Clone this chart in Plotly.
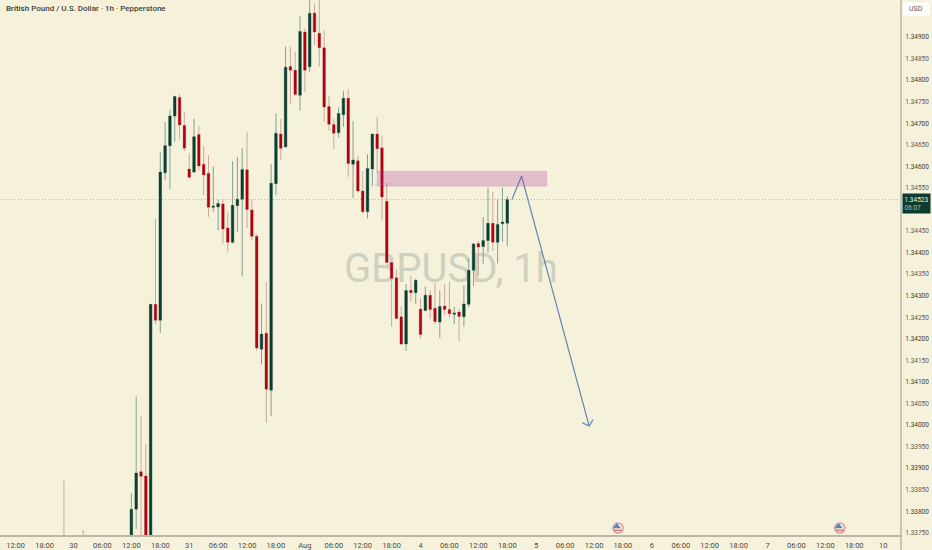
import plotly.graph_objects as go

# hourly bars, 0 = the 12:00 bar of Jul 29 (weekend bars are left out like on the chart)
bar_idx = [10, 14] + list(range(24, 103))
opens = [1.33720, 1.33730, 1.33700, 1.33805, 1.33892, 1.33882, 1.33700, 1.34280, 1.34243, 1.34585,
         1.34648, 1.34717, 1.34760, 1.34695, 1.34594, 1.34587, 1.34674, 1.34605, 1.34584, 1.34505,
         1.34506, 1.34513, 1.34457, 1.34424, 1.34509, 1.34524, 1.34592, 1.34499, 1.34438, 1.34176,
         1.34213, 1.34081, 1.34560, 1.34675, 1.34645, 1.34832, 1.34823, 1.34765, 1.34912, 1.34831,
         1.34956, 1.34909, 1.34875, 1.34739, 1.34697, 1.34678, 1.34720, 1.34758, 1.34605, 1.34613,
         1.34543, 1.34495, 1.34594, 1.34675, 1.34643, 1.34519, 1.34377, 1.34342, 1.34251, 1.34188,
         1.34313, 1.34307, 1.34269, 1.34266, 1.34301, 1.34271, 1.34239, 1.34276, 1.34268, 1.34257,
         1.34262, 1.34251, 1.34280, 1.34359, 1.34421, 1.34414, 1.34428, 1.34468, 1.34424, 1.34467,
         1.34468]
highs = [1.33872, 1.33756, 1.33842, 1.34066, 1.34021, 1.33956, 1.34280, 1.34478, 1.34633, 1.34703,
         1.34731, 1.34764, 1.34768, 1.34725, 1.34630, 1.34711, 1.34694, 1.34648, 1.34626, 1.34599,
         1.34522, 1.34524, 1.34493, 1.34612, 1.34622, 1.34642, 1.34679, 1.34523, 1.34443, 1.34282,
         1.34332, 1.34605, 1.34723, 1.34710, 1.34878, 1.34878, 1.34866, 1.34949, 1.34920, 1.35000,
         1.34978, 1.35000, 1.34916, 1.34763, 1.34711, 1.34737, 1.34775, 1.34779, 1.34705, 1.34624,
         1.34589, 1.34628, 1.34675, 1.34715, 1.34671, 1.34561, 1.34377, 1.34362, 1.34276, 1.34327,
         1.34346, 1.34339, 1.34294, 1.34322, 1.34313, 1.34330, 1.34313, 1.34327, 1.34332, 1.34274,
         1.34269, 1.34324, 1.34387, 1.34423, 1.34427, 1.34483, 1.34550, 1.34541, 1.34523, 1.34551,
         1.34531]
lows = [1.33680, 1.33690, 1.33680, 1.33759, 1.33710, 1.33700, 1.33680, 1.34234, 1.34214, 1.34568,
        1.34547, 1.34657, 1.34663, 1.34636, 1.34571, 1.34584, 1.34591, 1.34533, 1.34483, 1.34495,
        1.34452, 1.34421, 1.34400, 1.34421, 1.34448, 1.34345, 1.34457, 1.34429, 1.34172, 1.34141,
        1.34005, 1.34021, 1.34533, 1.34615, 1.34645, 1.34745, 1.34765, 1.34729, 1.34772, 1.34819,
        1.34881, 1.34831, 1.34703, 1.34683, 1.34640, 1.34667, 1.34692, 1.34576, 1.34526, 1.34539,
        1.34492, 1.34479, 1.34554, 1.34585, 1.34475, 1.34377, 1.34228, 1.34246, 1.34185, 1.34172,
        1.34286, 1.34281, 1.34200, 1.34264, 1.34247, 1.34234, 1.34202, 1.34255, 1.34249, 1.34234,
        1.34194, 1.34228, 1.34273, 1.34323, 1.34348, 1.34373, 1.34400, 1.34404, 1.34375, 1.34425,
        1.34415]
closes = [1.33690, 1.33700, 1.33805, 1.33889, 1.33881, 1.33720, 1.34280, 1.34243, 1.34587, 1.34648,
          1.34717, 1.34762, 1.34696, 1.34642, 1.34575, 1.34669, 1.34601, 1.34580, 1.34505, 1.34508,
          1.34514, 1.34455, 1.34424, 1.34510, 1.34524, 1.34593, 1.34500, 1.34438, 1.34179, 1.34211,
          1.34083, 1.34561, 1.34677, 1.34642, 1.34830, 1.34823, 1.34767, 1.34913, 1.34823, 1.34955,
          1.34912, 1.34875, 1.34738, 1.34698, 1.34677, 1.34723, 1.34758, 1.34607, 1.34615, 1.34543,
          1.34495, 1.34595, 1.34675, 1.34641, 1.34529, 1.34377, 1.34340, 1.34247, 1.34188, 1.34312,
          1.34307, 1.34336, 1.34210, 1.34301, 1.34268, 1.34240, 1.34275, 1.34268, 1.34258, 1.34260,
          1.34252, 1.34281, 1.34359, 1.34420, 1.34413, 1.34428, 1.34468, 1.34424, 1.34465, 1.34471,
          1.34523]

x_tick_idx = [i * 6 for i in range(31)]
x_tick_text = ["12:00", "18:00", "30", "06:00", "12:00", "18:00", "31", "06:00", "12:00", "18:00",
               "Aug", "06:00", "12:00", "18:00", "4", "06:00", "12:00", "18:00", "5", "06:00",
               "12:00", "18:00", "6", "06:00", "12:00", "18:00", "7", "06:00", "12:00", "18:00", "10"]
# 1.34500 sits behind the last price tag, so it is not in the list
y_tick_vals = [1.33750, 1.33800, 1.33850, 1.33900, 1.33950, 1.34000, 1.34050, 1.34100, 1.34150,
               1.34200, 1.34250, 1.34300, 1.34350, 1.34400, 1.34450, 1.34550, 1.34600, 1.34650,
               1.34700, 1.34750, 1.34800, 1.34850, 1.34900]

last_price = 1.34523
zone_idx = [75, 110.2]
zone_price = [1.34554, 1.34589]
dash_idx = [74.5, 83.9]
dash_price = 1.34559
arrow_idx = [102.96, 104.97, 119]
arrow_price = [1.345235, 1.345776, 1.339977]
head_idx = [117.6, 119, 119.8]
head_price = [1.34005, 1.339977, 1.34013]
flag_idx = [125, 171]
flag_price = [1.33761, 1.33761]

BG = "#f5f1da"
AXIS = "#b9b7a5"
GREEN = "#0c3b30"
RED = "#b3000f"
FONT = "Roboto"
W, H = 932, 550
ML, MR, MT, MB = 0, 31, 0, 15
PW, PH = W - ML - MR, H - MT - MB


def px(v):
    return v / PW


def py(v):
    return (PH - v) / PH


fig = go.Figure()

# wicks first, then the bodies on top so they can have a stronger colour
fig.add_trace(go.Candlestick(
    x=bar_idx, open=opens, high=highs, low=lows, close=closes, whiskerwidth=0,
    increasing=dict(line=dict(color="#83a193", width=1), fillcolor="rgba(0,0,0,0)"),
    decreasing=dict(line=dict(color="#cba99e", width=1), fillcolor="rgba(0,0,0,0)"),
    showlegend=False, hoverinfo="skip"))
body_hi = [max(o, c) for o, c in zip(opens, closes)]
body_lo = [min(o, c) for o, c in zip(opens, closes)]
fig.add_trace(go.Candlestick(
    x=bar_idx, open=opens, high=body_hi, low=body_lo, close=closes, whiskerwidth=0,
    increasing=dict(line=dict(color=GREEN, width=0), fillcolor=GREEN),
    decreasing=dict(line=dict(color=RED, width=0), fillcolor=RED),
    showlegend=False, hoverinfo="skip"))

# the drawn forecast arrow
line_style = dict(color="#5d84b8", width=1.2)
fig.add_trace(go.Scatter(x=arrow_idx, y=arrow_price, mode="lines", line=line_style,
                         showlegend=False, hoverinfo="skip"))
fig.add_trace(go.Scatter(x=head_idx, y=head_price, mode="lines", line=line_style,
                         showlegend=False, hoverinfo="skip"))

# event flags
fig.add_trace(go.Scatter(x=flag_idx, y=flag_price, mode="markers", showlegend=False, hoverinfo="skip",
                         marker=dict(symbol="circle", size=10, color="#f3ecdf",
                                     line=dict(color="#dc9a9a", width=1.5))))
fig.add_trace(go.Scatter(x=[i - 0.25 for i in flag_idx], y=[p + 0.00004 for p in flag_price],
                         mode="markers", showlegend=False, hoverinfo="skip",
                         marker=dict(symbol="triangle-up", size=7, color="#5d84b8")))
fig.add_trace(go.Scatter(x=flag_idx, y=[p - 0.00005 for p in flag_price],
                         mode="markers", showlegend=False, hoverinfo="skip",
                         marker=dict(symbol="line-ew", size=6, line=dict(color="#d9686a", width=1.2))))

fig.add_shape(type="rect", xref="x", yref="y", x0=46, x1=134.6, y0=1.34294, y1=1.34446, layer="below",
              line=dict(width=0), fillcolor="rgba(0,0,0,0)",
              label=dict(text="GBPUSD, 1h", textposition="middle center",
                         font=dict(family=FONT, size=40, color="#cfd1c0")))
fig.add_shape(type="line", xref="paper", yref="y", x0=0, x1=1, y0=last_price, y1=last_price,
              layer="below", line=dict(color="#a3b5a8", width=1, dash="1px,2px"))
fig.add_shape(type="rect", xref="x", yref="y", x0=zone_idx[0], x1=zone_idx[1],
              y0=zone_price[0], y1=zone_price[1],
              fillcolor="rgba(170,40,150,0.25)", line=dict(color="rgba(170,40,150,0.12)", width=1))
fig.add_shape(type="line", xref="x", yref="y", x0=dash_idx[0], x1=dash_idx[1], y0=dash_price, y1=dash_price,
              line=dict(color="#b5a9b0", width=0.8, dash="2px,3px"))
# price scale border carries on down past the time scale
fig.add_shape(type="line", xref="paper", yref="paper", x0=1, x1=1, y0=-MB / PH, y1=1,
              line=dict(color=AXIS, width=1.5))

# USD box
l, r, t, b, c = px(903), px(930), py(2), py(16), 3
rx, ry = c / PW, c / PH
fig.add_shape(type="path", xref="paper", yref="paper", fillcolor="#ffffff", line=dict(width=0),
              path=f"M {l+rx},{t} L {r-rx},{t} Q {r},{t} {r},{t-ry} L {r},{b+ry} Q {r},{b} {r-rx},{b} "
                   f"L {l+rx},{b} Q {l},{b} {l},{b+ry} L {l},{t-ry} Q {l},{t} {l+rx},{t} Z")
fig.add_annotation(xref="paper", yref="paper", x=px(907), y=py(9), xanchor="left", yanchor="middle",
                   text="USD", showarrow=False, font=dict(family=FONT, size=7, color="#555555"))

fig.add_annotation(xref="paper", yref="paper", x=px(4), y=py(9), xanchor="left", yanchor="middle",
                   text="British Pound / U.S. Dollar · 1h · Pepperstone", showarrow=False,
                   font=dict(family=FONT, size=8, color="#3d3f3a", weight=500))
fig.add_annotation(xref="paper", yref="y", x=px(902), y=last_price, xanchor="left", yanchor="middle", yshift=-4,
                   text="1.34523<br><span style='color:#a9bdb3'>06:07</span>", showarrow=False, align="left",
                   bgcolor=GREEN, borderpad=1.5, font=dict(family=FONT, size=6.5, color="#f2f2ea"))

y_tick_text = []
for v in y_tick_vals:
    col = "#3a3c38" if round(v * 10000) % 10 == 0 else "#5d5f58"
    y_tick_text.append(f"<span style='color:{col}'>{v:.5f}</span>")

fig.update_layout(
    width=W, height=H, margin=dict(l=ML, r=MR, t=MT, b=MB, autoexpand=False),
    paper_bgcolor=BG, plot_bgcolor=BG, boxgap=0.25, showlegend=False,
    xaxis=dict(range=[-3.26, 183.7], rangeslider=dict(visible=False), showgrid=False, zeroline=False,
               automargin=False, tickmode="array", tickvals=x_tick_idx, ticktext=x_tick_text,
               ticks="outside", ticklen=2, tickcolor=BG, tickfont=dict(family=FONT, size=7.5, color="#4a4c46"),
               showline=True, linecolor=AXIS, linewidth=1.5),
    yaxis=dict(range=[1.33745, 1.34986], side="right", showgrid=False, zeroline=False, automargin=False,
               tickmode="array", tickvals=y_tick_vals, ticktext=y_tick_text, ticks="outside", ticklen=2,
               tickcolor=BG, tickfont=dict(family=FONT, size=6.5), showline=False),
)

fig.write_html("out.html", config={"displayModeBar": False},
               post_script="document.body.style.margin='0';document.body.style.overflow='hidden';")
